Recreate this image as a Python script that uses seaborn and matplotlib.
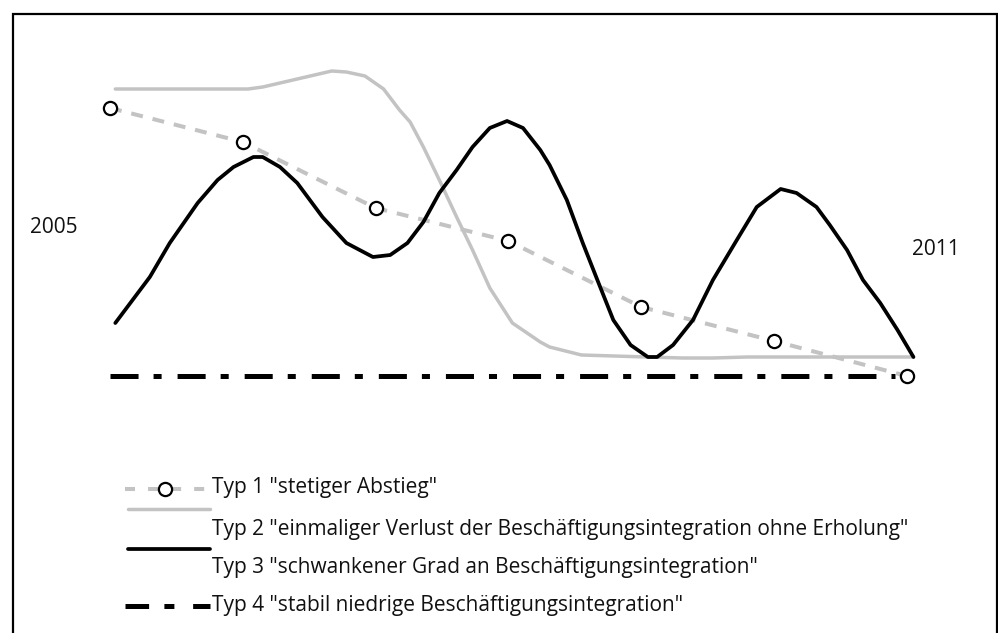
import matplotlib
matplotlib.use("Agg")
import matplotlib.pyplot as plt
import seaborn as sns
import pandas as pd
from matplotlib.lines import Line2D

sns.set_theme(style="white")
plt.rcParams['font.family'] = ['Open Sans', 'DejaVu Sans']
plt.rcParams['lines.scale_dashes'] = False

# ---- data (x = year, y = level of employment integration, arbitrary units)
typ1_years = [2005, 2006, 2007, 2008, 2009, 2010, 2011]
typ1_vals = [29.2, 25.8, 19.2, 15.9, 9.3, 5.9, 2.4]

typ2_years = [2005.04, 2006.04, 2006.15, 2006.67, 2006.78, 2006.92, 2007.06, 2007.18,
              2007.26, 2007.36, 2007.48, 2007.61, 2007.73, 2007.86, 2008.03, 2008.24,
              2008.31, 2008.55, 2009.04, 2009.31, 2009.54, 2009.80, 2011.05]
typ2_vals = [31.1, 31.1, 31.3, 32.9, 32.8, 32.4, 31.1, 29.0,
             27.8, 25.3, 22.0, 18.3, 15.0, 11.2, 7.7, 5.8,
             5.3, 4.5, 4.3, 4.2, 4.2, 4.3, 4.3]

typ3_years = [2005.04, 2005.30, 2005.45, 2005.66, 2005.81, 2005.93, 2006.08, 2006.15,
              2006.28, 2006.41, 2006.60, 2006.78, 2006.98, 2007.11, 2007.24, 2007.36,
              2007.48, 2007.61, 2007.73, 2007.86, 2007.99, 2008.11, 2008.24, 2008.31,
              2008.44, 2008.56, 2008.67, 2008.79, 2008.92, 2009.05, 2009.12, 2009.24,
              2009.39, 2009.54, 2009.72, 2009.87, 2010.05, 2010.17, 2010.32, 2010.42,
              2010.55, 2010.67, 2010.80, 2010.93, 2011.05]
typ3_vals = [7.7, 12.3, 15.7, 19.7, 22.0, 23.3, 24.3, 24.3,
             23.3, 21.7, 18.3, 15.7, 14.3, 14.5, 15.7, 17.8,
             20.7, 23.0, 25.3, 27.2, 27.9, 27.2, 25.0, 23.5,
             20.0, 15.7, 12.0, 8.0, 5.5, 4.3, 4.3, 5.5,
             8.0, 12.0, 16.0, 19.3, 21.1, 20.7, 19.3, 17.5,
             15.0, 12.0, 9.7, 7.0, 4.3]

typ4_years = [2005, 2010.91]
typ4_vals = [2.4, 2.4]

start_label = "2005"
end_label = "2011"
legend_labels = ['Typ 1 "stetiger Abstieg"',
                 'Typ 2 "einmaliger Verlust der Beschäftigungsintegration ohne Erholung"',
                 'Typ 3 "schwankener Grad an Beschäftigungsintegration"',
                 'Typ 4 "stabil niedrige Beschäftigungsintegration"']

GRAY = "#c3c3c3"
BLACK = "#000000"
DASH1 = (0, (8.6, 7.2))
DASH4 = (0, (20.2, 10.8, 5.8, 11.5))
FS = 15

W, H = 998, 633
fig = plt.figure(figsize=(W / 100, H / 100), dpi=100)
ax = fig.add_axes([0, 0, 1, 1])
ax.set_xlim(2005 - 110 / 132.8, 2005 + (W - 110) / 132.8)
ax.set_ylim((400 - H) / 10, 40)
ax.set_axis_off()

df4 = pd.DataFrame({"x": typ4_years, "y": typ4_vals})
sns.lineplot(data=df4, x="x", y="y", ax=ax, color=BLACK, linewidth=3.6, sort=False)
ax.lines[-1].set_linestyle(DASH4)
ax.lines[-1].set_dash_capstyle("butt")

df2 = pd.DataFrame({"x": typ2_years, "y": typ2_vals})
sns.lineplot(data=df2, x="x", y="y", ax=ax, color=GRAY, linewidth=2.5, sort=False)

df1 = pd.DataFrame({"x": typ1_years, "y": typ1_vals})
sns.lineplot(data=df1, x="x", y="y", ax=ax, color=GRAY, linewidth=2.9, sort=False)
ax.lines[-1].set_linestyle(DASH1)
ax.lines[-1].set_dash_capstyle("butt")

df3 = pd.DataFrame({"x": typ3_years, "y": typ3_vals})
sns.lineplot(data=df3, x="x", y="y", ax=ax, color=BLACK, linewidth=2.7, sort=False)
ax.lines[-1].set_solid_joinstyle("round")

sns.lineplot(data=df1, x="x", y="y", ax=ax, sort=False, linestyle="none",
             marker="o", color=BLACK, zorder=5)
mk = ax.lines[-1]
mk.set_linestyle("none")
mk.set_markersize(9.5)
mk.set_markerfacecolor("white")
mk.set_markeredgecolor(BLACK)
mk.set_markeredgewidth(1.6)

ax.text(typ1_years[0] - 0.6, 17.2, start_label, fontsize=FS, ha="left", va="center", color="#111111")
ax.text(typ1_years[-1] + 0.04, 15.0, end_label, fontsize=FS, ha="left", va="center", color="#111111")

# ---- manual legend (pixel positions in figure)
def fx(px):
    return px / W

def fy(py):
    return 1 - py / H

tr = fig.transFigure
fig.add_artist(Line2D([fx(125), fx(210)], [fy(489), fy(489)], transform=tr, color=GRAY,
                      linewidth=2.9, linestyle=(0, (7.2, 9.4)), dash_capstyle="butt"))
fig.add_artist(Line2D([fx(165)], [fy(489)], transform=tr, marker="o", markersize=9.5,
                      markerfacecolor="white", markeredgecolor=BLACK, markeredgewidth=1.6,
                      linestyle="none"))
fig.add_artist(Line2D([fx(128), fx(210)], [fy(509), fy(509)], transform=tr, color=GRAY,
                      linewidth=2.5, solid_capstyle="round"))
fig.add_artist(Line2D([fx(128), fx(210)], [fy(549), fy(549)], transform=tr, color=BLACK,
                      linewidth=2.7, solid_capstyle="round"))
fig.add_artist(Line2D([fx(125), fx(210)], [fy(606), fy(606)], transform=tr, color=BLACK,
                      linewidth=3.6, linestyle=(0, (17, 11, 7.2, 13.5)), dash_capstyle="butt"))

for lab, py in zip(legend_labels, [488, 530, 568, 606]):
    fig.text(fx(212), fy(py), lab, fontsize=FS, ha="left", va="center", color="#111111")

# ---- frame
fig.add_artist(Line2D([fx(13), fx(13), fx(997), fx(997)], [0, fy(14), fy(14), 0],
                      transform=tr, color=BLACK, linewidth=1.6, solid_joinstyle="miter"))

fig.savefig("out.png", dpi=100)
